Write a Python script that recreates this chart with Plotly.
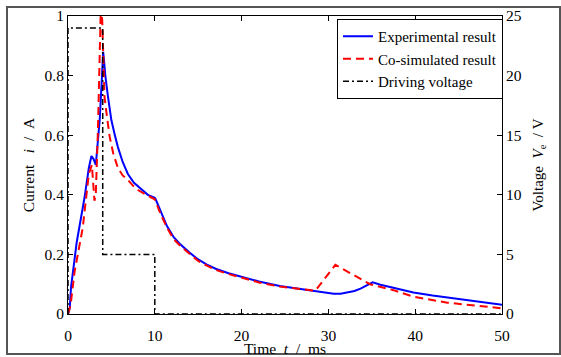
import plotly.graph_objects as go

# ---- data ----
t_exp = [0, 0.2, 0.35, 1.0, 1.9, 2.4, 2.7, 2.95, 3.2, 3.45, 3.65, 3.9, 4.05, 4.15, 4.3, 4.6, 5.0, 5.4, 5.75,
         6.3, 6.9, 7.6, 8.4, 9.2, 10.0, 10.1, 10.6, 11.0, 11.4, 12.2, 13.0, 14.0, 15.0, 16.0, 17.0, 18.5, 20.0,
         22.0, 24.4, 26.5, 28.3, 29.5, 30.6, 31.4, 32.1, 33.0, 33.7, 34.3, 34.8, 35.1, 36.0, 37.5, 39.8, 42.0,
         44.0, 47.0, 50.0]
i_exp = [0, 0.02, 0.09, 0.24, 0.39, 0.49, 0.53, 0.52, 0.50, 0.58, 0.65, 0.79, 0.88, 0.85, 0.80, 0.73, 0.65,
         0.60, 0.56, 0.51, 0.47, 0.44, 0.42, 0.40, 0.39, 0.385, 0.35, 0.32, 0.295, 0.257, 0.232, 0.206, 0.183,
         0.166, 0.152, 0.137, 0.124, 0.109, 0.094, 0.085, 0.077, 0.071, 0.068, 0.068, 0.071, 0.077, 0.085,
         0.094, 0.103, 0.106, 0.098, 0.087, 0.072, 0.062, 0.054, 0.043, 0.031]

t_sim = [0, 0.3, 0.75, 1.7, 2.4, 2.75, 3.05, 3.2, 3.45, 3.65, 3.8, 3.95, 4.2, 4.5, 4.8, 5.2, 5.75, 6.3, 6.9,
         7.5, 8.06, 9.0, 10.0, 10.6, 11.0, 11.4, 12.2, 13.0, 14.0, 15.0, 16.0, 17.0, 18.5, 20.0, 22.0, 24.4,
         26.5, 28.5, 30.8, 34.8, 37.5, 39.8, 43.7, 47.0, 50.0]
i_sim = [0, 0.03, 0.14, 0.29, 0.47, 0.50, 0.38, 0.40, 0.62, 0.89, 1.05, 0.98, 0.73, 0.66, 0.595, 0.54, 0.49,
         0.465, 0.45, 0.43, 0.416, 0.40, 0.385, 0.34, 0.315, 0.29, 0.25, 0.227, 0.202, 0.178, 0.162, 0.148,
         0.134, 0.121, 0.106, 0.092, 0.084, 0.078, 0.165, 0.10, 0.08, 0.058, 0.038, 0.027, 0.019]

t_volt = [0, 0, 4, 4, 10, 10, 50]
v_volt = [0, 24, 24, 5, 5, 0, 0]

x_ticks = [0, 10, 20, 30, 40, 50]
y_ticks = [0, 0.2, 0.4, 0.6, 0.8, 1]
y_tick_labels = ["0", "0.2", "0.4", "0.6", "0.8", "1"]
y2_ticks = [0, 5, 10, 15, 20, 25]

FONT = "Liberation Serif, Times New Roman, serif"
SP = "&nbsp;"

fig = go.Figure()
fig.add_trace(go.Scatter(x=t_exp, y=i_exp, mode="lines", name="Experimental result",
                         line=dict(color="#0000ff", width=2)))
fig.add_trace(go.Scatter(x=t_sim, y=i_sim, mode="lines", name="Co-simulated result",
                         line=dict(color="#ff0000", width=2, dash="8px,5px")))
fig.add_trace(go.Scatter(x=t_volt, y=v_volt, mode="lines", name="Driving voltage", yaxis="y2",
                         line=dict(color="#000000", width=1.5, dash="6px,3px,2px,3px")))

L, R, T, B = 68, 59, 16, 43
W, H = 561, 357
pw, ph = W - L - R, H - T - B

fig.update_layout(
    width=W, height=H,
    margin=dict(l=L, r=R, t=T, b=B, autoexpand=False),
    paper_bgcolor="white", plot_bgcolor="white",
    font=dict(family=FONT, size=15, color="black"),
    showlegend=True,
    legend=dict(x=(337 - L) / pw, y=(314 - 19) / ph, xanchor="left", yanchor="top",
                bordercolor="black", borderwidth=1, bgcolor="white",
                font=dict(family=FONT, size=15), tracegroupgap=0),
    xaxis=dict(range=[0, 50], tickvals=x_ticks, ticks="inside", ticklen=5, tickcolor="black",
               showline=True, linecolor="black", linewidth=1, mirror="ticks", showgrid=False,
               zeroline=False, ticklabelstandoff=7, tickfont=dict(size=15.5), automargin=False,
               title=dict(text="Time" + SP * 2 + "<i>t</i>" + SP * 2 + "/" + SP * 2 + "ms", standoff=2,
                          font=dict(size=15.5))),
    yaxis=dict(range=[0, 1], tickvals=y_ticks, ticktext=y_tick_labels, ticks="inside", ticklen=5,
               tickcolor="black", showline=True, linecolor="black", linewidth=1, showgrid=False,
               zeroline=False, tickfont=dict(size=15.5), automargin=False,
               title=dict(text="Current" + SP * 3 + "<i>i</i>" + SP * 2 + "/" + SP * 2 + "A", standoff=6,
                          font=dict(size=15.5))),
    yaxis2=dict(range=[0, 25], tickvals=y2_ticks, ticks="inside", ticklen=5, tickcolor="black",
                overlaying="y", side="right", showline=True, linecolor="black", linewidth=1,
                showgrid=False, zeroline=False, tickfont=dict(size=15.5), automargin=False,
                title=dict(text="Voltage" + SP * 2 + "<i>V</i><sub>e</sub>" + SP * 2 + "/" + SP + "V",
                           standoff=11, font=dict(size=15))),
    shapes=[dict(type="rect", xref="paper", yref="paper",
                 x0=(7 - L) / pw, x1=(560 - L) / pw, y0=(314 - 354) / ph, y1=(314 - 7) / ph,
                 line=dict(color="#555555", width=2), fillcolor="rgba(0,0,0,0)", layer="below")],
)

fig.write_html("out.html")
